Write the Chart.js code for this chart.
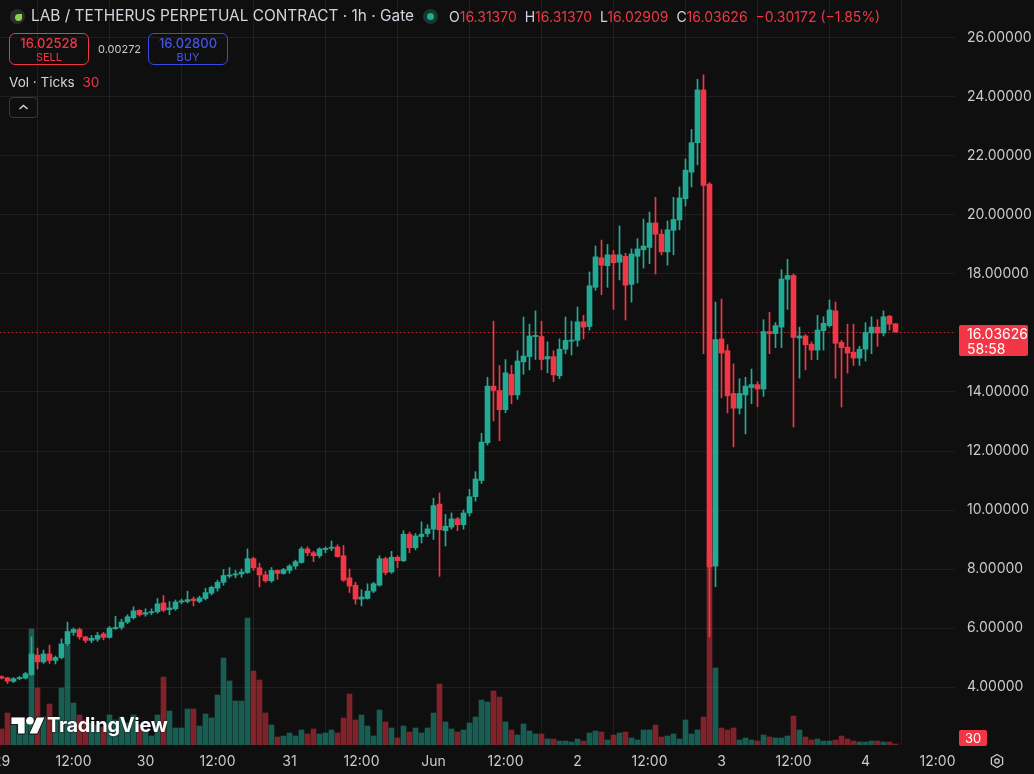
<!DOCTYPE html>
<html>
<head>
<meta charset="utf-8">
<script src="https://cdn.jsdelivr.net/npm/chart.js@4.4.1/dist/chart.umd.min.js"></script>
<style>
  html, body { margin: 0; padding: 0; background: #0f0f0f; }
  body { width: 1034px; height: 774px; position: relative; overflow: hidden;
         font-family: Inter, "Noto Sans", sans-serif; color: #d1d4dc; }
  #chart { position: absolute; left: 0; top: 0; }
  .abs { position: absolute; white-space: nowrap; }
  .red { color: #f23645; }
  .box { position: absolute; width: 78px; height: 30px; border-radius: 6px; text-align: center; }
  .box .p { font-size: 13px; font-weight: 500; line-height: 15px; margin-top: 2px; }
  .box .s { font-size: 11px; line-height: 12px; }
</style>
</head>
<body>
<canvas id="chart" width="1034" height="774"></canvas>

<!-- header -->
<div class="abs" style="left:10px;top:9px;width:15px;height:15px;border-radius:50%;background:#2a2d2a;">
  <div style="position:absolute;left:5px;top:5px;width:7px;height:7px;border-radius:50% 0 50% 50%;background:#8fd14f;"></div>
</div>
<div class="abs" style="left:31px;top:6px;font-size:15.4px;line-height:20px;color:#d1d4dc;">LAB / TETHERUS PERPETUAL CONTRACT · 1h · Gate</div>
<div class="abs" style="left:423px;top:9px;width:15px;height:15px;border-radius:50%;background:#15382f;">
  <div style="position:absolute;left:4px;top:4px;width:7px;height:7px;border-radius:50%;background:#22ab94;"></div>
</div>
<div class="abs" style="left:449px;top:7px;font-size:14px;line-height:20px;">
  <span>O</span><span class="red">16.31370</span>&nbsp;
  <span>H</span><span class="red">16.31370</span>&nbsp;
  <span>L</span><span class="red">16.02909</span>&nbsp;
  <span>C</span><span class="red">16.03626</span>&nbsp;
  <span class="red">−0.30172 (−1.85%)</span>
</div>

<div class="box" style="left:9px;top:33px;border:1px solid #f23645;color:#f23645;">
  <div class="p">16.02528</div><div class="s">SELL</div>
</div>
<div class="abs" style="left:98px;top:42px;font-size:11px;line-height:14px;color:#c8cad0;">0.00272</div>
<div class="box" style="left:148px;top:33px;border:1px solid #3b4be0;color:#4454e6;">
  <div class="p">16.02800</div><div class="s">BUY</div>
</div>

<div class="abs" style="left:9px;top:73px;font-size:13.5px;line-height:18px;">Vol · Ticks <span class="red" style="margin-left:4px;">30</span></div>
<div class="abs" style="left:9px;top:97px;width:27px;height:19px;border:1px solid #3a3a3a;border-radius:4px;">
  <svg width="27" height="19" style="position:absolute;left:0;top:0"><path d="M9.5 11 L13.5 7.5 L17.5 11" stroke="#d1d4dc" stroke-width="1.5" fill="none"/></svg>
</div>

<!-- watermark -->
<svg class="abs" style="left:10px;top:715px;" width="36" height="21" viewBox="0 0 38 22">
  <path d="M1 2h15v18h-8v-10h-7z" fill="#fff" stroke="#0f0f0f" stroke-width="1"/>
  <circle cx="21" cy="6" r="4" fill="#fff"/>
  <path d="M28 2h9l-8 18h-9z" fill="#fff" stroke="#0f0f0f" stroke-width="1"/>
</svg>
<div class="abs" style="left:47px;top:712px;font-size:20px;font-weight:700;line-height:27px;color:#fff;letter-spacing:-0.3px;text-shadow:0 0 2px #0f0f0f;">TradingView</div>

<!-- right axis labels -->
<div id="lastBox" class="abs" style="left:959px;top:325px;width:69px;height:31px;background:#f23645;border-radius:2px;color:#fff;font-size:14px;line-height:15px;">
  <div style="margin:1px 0 0 8px;">16.03626</div><div style="margin-left:8px;">58:58</div>
</div>
<div class="abs" style="left:959px;top:730px;width:28px;height:16px;background:#f23645;border-radius:2px;color:#fff;font-size:13px;line-height:16px;text-align:center;">30</div>
<svg class="abs" style="left:989px;top:753px;" width="16" height="16" viewBox="0 0 16 16">
  <path d="M8 1.5 L13.6 4.75 V11.25 L8 14.5 L2.4 11.25 V4.75 Z" stroke="#c8cad0" stroke-width="1.3" fill="none"/>
  <circle cx="8" cy="8" r="2.2" stroke="#c8cad0" stroke-width="1.3" fill="none"/>
</svg>

<script>
// x-axis ticks: hours since 29 May 00:00 (one candle per hour)
const tickHours = [0, 12, 24, 36, 48, 60, 72, 84, 96, 108, 120, 132, 144, 156];
const tickLabels = ["29", "12:00", "30", "12:00", "31", "12:00", "Jun", "12:00", "2", "12:00", "3", "12:00", "4", "12:00"];
const priceTicks = [4, 6, 8, 10, 12, 14, 16, 18, 20, 22, 24, 26];

const opens = [4.35, 4.31, 4.19, 4.28, 4.30, 4.42, 5.08, 4.85, 5.12, 4.90,
  5.00, 5.46, 5.85, 5.95, 5.70, 5.58, 5.62, 5.80, 5.68, 5.98,
  6.02, 6.20, 6.35, 6.60, 6.47, 6.52, 6.55, 6.85, 6.62, 6.65,
  6.88, 6.90, 6.98, 6.90, 7.00, 7.18, 7.35, 7.55, 7.76, 7.80,
  7.83, 7.88, 8.35, 8.04, 7.80, 7.60, 7.95, 7.85, 7.95, 8.10,
  8.22, 8.68, 8.55, 8.45, 8.66, 8.70, 8.75, 8.45, 7.70, 7.45,
  6.98, 7.00, 7.25, 7.45, 8.35, 7.90, 8.40, 8.28, 9.18, 8.72,
  9.10, 9.20, 9.35, 10.20, 9.30, 9.42, 9.70, 9.50, 9.90, 10.45,
  11.00, 12.28, 14.20, 14.05, 13.40, 14.60, 13.90, 15.02, 15.20, 15.88,
  15.88, 15.12, 15.20, 14.55, 15.45, 15.72, 15.75, 16.38, 16.22, 17.55,
  18.55, 18.28, 18.65, 18.40, 18.60, 17.65, 18.60, 18.82, 18.90, 19.73,
  19.35, 18.75, 19.48, 19.83, 20.55, 21.45, 22.45, 24.24, 21.05, 8.10,
  15.80, 15.40, 13.95, 13.45, 13.90, 14.15, 14.25, 14.10, 16.05, 15.98,
  16.20, 17.82, 17.95, 15.83, 15.90, 15.62, 15.42, 16.08, 16.25, 16.75,
  15.68, 15.52, 15.35, 15.15, 15.45, 16.00, 16.20, 16.00, 16.57, 16.3137];
const highs = [4.38, 4.33, 4.32, 4.36, 4.50, 5.70, 5.32, 5.25, 5.42, 5.05,
  5.63, 6.20, 6.00, 6.00, 5.72, 5.75, 5.85, 5.85, 6.05, 6.40,
  6.30, 6.45, 6.72, 6.62, 6.65, 6.65, 7.00, 7.10, 6.90, 6.95,
  6.98, 7.25, 7.05, 7.08, 7.35, 7.42, 7.62, 7.98, 8.05, 7.95,
  8.00, 8.68, 8.40, 8.20, 7.92, 8.05, 7.97, 8.02, 8.15, 8.30,
  8.75, 8.75, 8.60, 8.72, 8.75, 8.95, 8.82, 8.80, 8.00, 7.55,
  7.30, 7.50, 7.55, 8.45, 8.40, 8.60, 8.45, 9.30, 9.25, 9.20,
  9.60, 9.50, 10.40, 10.58, 9.85, 9.90, 9.75, 10.00, 10.70, 11.30,
  12.60, 14.50, 16.40, 14.90, 15.10, 14.90, 15.40, 16.54, 16.30, 16.75,
  16.40, 15.70, 15.40, 15.80, 16.54, 16.40, 16.88, 16.60, 18.07, 18.95,
  19.15, 19.00, 18.80, 19.63, 18.70, 18.85, 19.20, 19.86, 20.10, 20.60,
  19.50, 19.80, 20.60, 20.95, 21.90, 22.90, 24.60, 24.75, 21.10, 17.05,
  17.15, 15.60, 14.95, 14.45, 14.50, 14.78, 14.35, 16.45, 16.70, 16.35,
  18.15, 18.50, 18.00, 16.20, 15.95, 15.70, 16.60, 16.55, 17.12, 17.05,
  15.75, 16.30, 16.30, 15.55, 16.35, 16.55, 16.45, 16.75, 16.60, 16.3137];
const lows = [4.27, 4.12, 4.15, 4.25, 4.27, 4.40, 4.61, 4.80, 4.80, 4.78,
  4.95, 5.40, 5.75, 5.62, 5.50, 5.50, 5.55, 5.60, 5.65, 5.95,
  5.95, 6.15, 6.30, 6.40, 6.40, 6.45, 6.50, 6.55, 6.45, 6.60,
  6.82, 6.85, 6.75, 6.85, 6.95, 7.12, 7.25, 7.45, 7.70, 7.70,
  7.72, 7.85, 7.95, 7.39, 7.55, 7.55, 7.65, 7.82, 7.85, 8.00,
  8.20, 8.45, 8.25, 8.38, 8.55, 8.62, 8.40, 7.58, 7.20, 6.81,
  6.75, 6.98, 7.20, 7.42, 7.80, 7.85, 8.05, 8.25, 8.55, 8.65,
  8.88, 9.10, 9.00, 7.75, 8.78, 9.35, 9.30, 9.35, 9.80, 10.30,
  10.90, 12.20, 13.02, 12.35, 13.30, 13.60, 13.75, 14.60, 14.75, 15.10,
  14.75, 14.65, 14.35, 14.45, 15.30, 15.25, 15.55, 15.80, 16.10, 17.45,
  17.30, 17.55, 16.80, 17.80, 16.44, 17.05, 17.70, 18.20, 18.35, 18.00,
  18.65, 18.30, 18.65, 19.50, 20.30, 20.95, 21.70, 15.30, 5.70, 7.40,
  13.80, 13.29, 12.14, 13.25, 12.58, 13.60, 13.50, 13.85, 15.30, 15.50,
  15.50, 16.80, 12.81, 14.47, 14.75, 15.10, 15.10, 15.42, 16.20, 14.47,
  13.49, 14.64, 14.90, 14.90, 15.05, 15.30, 15.55, 15.90, 16.10, 16.0291];
const closes = [4.30, 4.20, 4.28, 4.32, 4.45, 5.12, 4.85, 5.12, 4.90, 5.00,
  5.46, 5.88, 5.95, 5.70, 5.58, 5.65, 5.75, 5.68, 6.00, 6.02,
  6.20, 6.38, 6.58, 6.45, 6.52, 6.55, 6.82, 6.60, 6.68, 6.88,
  6.92, 6.96, 6.93, 7.02, 7.20, 7.38, 7.55, 7.78, 7.80, 7.83,
  7.90, 8.35, 8.04, 7.80, 7.60, 7.95, 7.85, 7.98, 8.10, 8.25,
  8.68, 8.55, 8.45, 8.68, 8.70, 8.74, 8.42, 7.62, 7.42, 6.98,
  7.05, 7.25, 7.50, 8.35, 7.88, 8.40, 8.28, 9.18, 8.72, 9.12,
  9.18, 9.36, 10.15, 9.33, 9.45, 9.70, 9.50, 9.90, 10.45, 11.05,
  12.30, 14.20, 14.05, 13.40, 14.65, 13.90, 15.05, 15.22, 15.90, 15.92,
  15.10, 15.20, 14.58, 15.45, 15.75, 15.76, 16.38, 16.20, 17.60, 18.58,
  18.30, 18.65, 18.38, 18.65, 17.62, 18.68, 18.85, 18.95, 19.73, 19.35,
  18.75, 19.50, 19.85, 20.58, 21.52, 22.45, 24.24, 21.00, 8.07, 15.78,
  15.32, 13.87, 13.45, 13.95, 14.20, 14.25, 14.10, 16.05, 15.98, 16.25,
  17.83, 17.95, 15.85, 15.90, 15.60, 15.42, 16.10, 16.33, 16.78, 15.65,
  15.50, 15.32, 15.15, 15.45, 16.02, 16.20, 16.00, 16.55, 16.30, 16.03626];
// volume, thousand contracts
const volumes = [16, 32, 25, 20, 22, 116, 57, 28, 41, 25,
  57, 100, 42, 30, 25, 22, 20, 18, 30, 25,
  28, 22, 30, 20, 15, 9, 30, 68, 34, 17,
  17, 36, 36, 19, 31, 27, 50, 87, 64, 44,
  44, 127, 74, 65, 32, 20, 8, 9, 12, 9,
  15, 11, 16, 11, 12, 15, 12, 27, 51, 25,
  30, 19, 9, 35, 23, 17, 7, 19, 13, 17,
  12, 17, 32, 61, 23, 16, 13, 15, 22, 28,
  45, 43, 54, 48, 23, 15, 10, 21, 14, 11,
  11, 6, 6, 4, 4, 3, 6, 4, 12, 14,
  13, 5, 10, 12, 13, 7, 5, 15, 15, 20,
  8, 9, 11, 6, 25, 11, 15, 28, 190, 77,
  17, 15, 17, 5, 7, 5, 4, 10, 8, 7,
  7, 9, 29, 15, 8, 5, 6, 4, 4, 5,
  9, 6, 4, 3, 3, 4, 4, 3, 3, 1];

const UP = '#22ab94', DOWN = '#f23645';
const UP_VOL = 'rgba(34,171,148,0.5)', DOWN_VOL = 'rgba(242,54,69,0.5)';
const GRID = 'rgba(255,255,255,0.065)';

const isUp = opens.map((o, i) => closes[i] >= o);
const wicks = lows.map((l, i) => ({ x: i, y: [l, highs[i]] }));
const bodies = opens.map((o, i) => ({ x: i, y: [Math.min(o, closes[i]), Math.max(o, closes[i])] }));
const vols = volumes.map((v, i) => ({ x: i, y: v }));

const lastPrice = closes[closes.length - 1];

const lastLine = {
  id: 'lastLine',
  beforeDatasetsDraw(chart) {
    const { ctx, chartArea, scales } = chart;
    const y = Math.round(scales.y.getPixelForValue(lastPrice)) + 0.5;
    ctx.save();
    ctx.strokeStyle = 'rgba(242,54,69,0.75)';
    ctx.lineWidth = 1;
    ctx.setLineDash([1, 3]);
    ctx.beginPath();
    ctx.moveTo(chartArea.left, y);
    ctx.lineTo(chartArea.right, y);
    ctx.stroke();
    ctx.restore();
    document.getElementById('lastBox').style.top = (Math.round(y) - 8) + 'px';
  }
};

new Chart(document.getElementById('chart'), {
  type: 'bar',
  data: {
    datasets: [
      {
        label: 'Volume', data: vols, yAxisID: 'vol', order: 3, grouped: false,
        barThickness: 5, backgroundColor: isUp.map(u => u ? UP_VOL : DOWN_VOL)
      },
      {
        label: 'Wick', data: wicks, yAxisID: 'y', order: 2, grouped: false,
        barThickness: 1, backgroundColor: isUp.map(u => u ? UP : DOWN)
      },
      {
        label: 'Body', data: bodies, yAxisID: 'y', order: 1, grouped: false,
        barThickness: 5, minBarLength: 1, backgroundColor: isUp.map(u => u ? UP : DOWN)
      }
    ]
  },
  options: {
    responsive: false,
    animation: false,
    devicePixelRatio: 1,
    layout: { padding: 0 },
    plugins: { legend: { display: false }, tooltip: { enabled: false } },
    scales: {
      x: {
        type: 'linear', min: -0.25, max: 158.9167, offset: false,
        grid: { color: GRID, drawTicks: false },
        border: { display: false },
        afterBuildTicks: s => { s.ticks = tickHours.map(v => ({ value: v })); },
        afterFit: s => { s.height = 29; s.paddingLeft = 0; s.paddingRight = 0; },
        ticks: {
          autoSkip: false, maxRotation: 0, padding: 8, color: '#c8cad0',
          font: { family: 'Inter', size: 14 },
          callback: (v, i) => tickLabels[i]
        }
      },
      y: {
        position: 'right', min: 2.034, max: 27.288,
        grid: { color: GRID, drawTicks: false },
        border: { display: false },
        afterBuildTicks: s => { s.ticks = priceTicks.map(v => ({ value: v })); },
        afterFit: s => { s.width = 79; s.paddingTop = 0; s.paddingBottom = 0; },
        ticks: {
          padding: 12, color: '#c8cad0',
          font: { family: 'Inter', size: 14 },
          callback: v => v.toFixed(5)
        }
      },
      vol: { display: false, min: 0, max: 745 }
    }
  },
  plugins: [lastLine]
});
</script>
</body>
</html>
